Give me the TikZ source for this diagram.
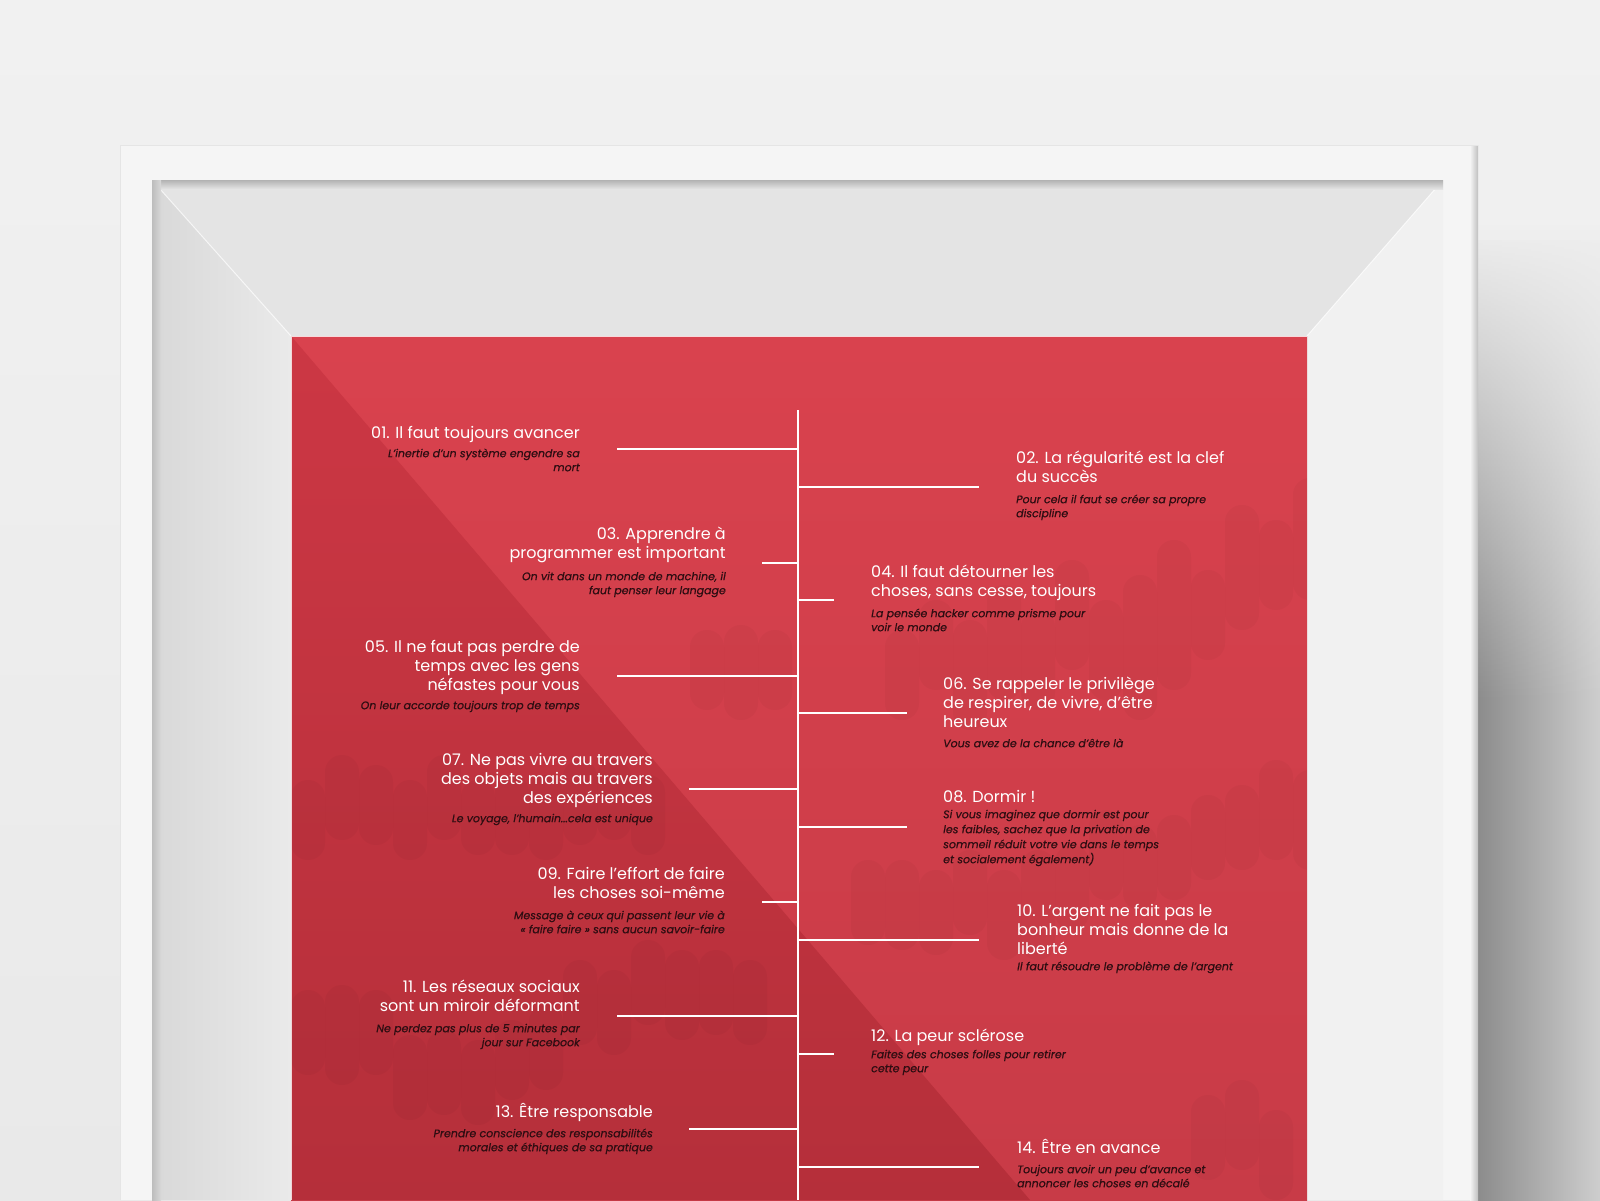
\documentclass[tikz,border=0pt]{standalone}
\usepackage{fontspec}
\setmainfont{Poppins}
\newfontfamily\subfam{Poppins}[FakeBold=0.6]
\usetikzlibrary{fadings}
\tikzfading[name=topopaque, top color=transparent!0, bottom color=transparent!100]
\definecolor{wallA}{HTML}{F1F1F1}
\definecolor{wallB}{HTML}{E9E9E9}
\definecolor{shdA}{HTML}{8C8C8C}
\definecolor{shdB}{HTML}{CECECE}
\definecolor{framec}{HTML}{F5F5F5}
\definecolor{bevtop}{HTML}{E4E4E4}
\definecolor{bevleftA}{HTML}{D8D8D8}
\definecolor{bevleftB}{HTML}{EAEAEA}
\definecolor{bevright}{HTML}{F1F1F1}
\definecolor{redA}{HTML}{D9424E}
\definecolor{redB}{HTML}{C83B47}
\definecolor{darkA}{HTML}{CC3744}
\definecolor{darkB}{HTML}{B52F3A}
\definecolor{subc}{HTML}{2E0D12}
\newcommand\tstr{\rule{0pt}{18pt}}
\newcommand\sstr{\rule{0pt}{12pt}}
\newcommand\drip[3]{\fill[black, opacity=0.028, rounded corners=16.9pt] (#1,#2) rectangle (#1+34,#3);}
\newcommand\ttlfont{\fontsize{16}{19}\selectfont}
\newcommand\subfont{\subfam\fontsize{11}{14}\selectfont\itshape}
\tikzset{
  ttl/.style={inner sep=0pt, text=white, font=\ttlfont},
  sub/.style={inner sep=0pt, text=subc, font=\subfont},
  L/.style={anchor=north east, align=right},
  R/.style={anchor=north west, align=left},
  branch/.style={draw=white, line width=2pt},
}
\begin{document}
\lineskiplimit=-40pt\relax
\begin{tikzpicture}[x=1pt,y=-1pt]
\useasboundingbox (0,0) rectangle (1600,1200);
% wall
\shade[top color=wallA, bottom color=wallB] (0,0) rectangle (1600,1200);
% shadow to the right of the frame
\shade[left color=shdA, right color=shdB] (1478,240) rectangle (1600,1200);
\fill[wallA!60!wallB, path fading=topopaque] (1478,230) rectangle (1600,700);
% frame
\fill[framec] (120,145) rectangle (1478,1200);
\shade[left color=framec, right color=black!25] (1470,145) rectangle (1478,1200);
\draw[black!10, line width=0.8pt] (120,1200) -- (120,145) -- (1478,145);
% mat bevels
\fill[bevtop] (152,180) -- (1443,180) -- (1307,336) -- (291,336) -- cycle;
\shade[left color=bevleftA, right color=bevleftB] (152,180) -- (291,336) -- (291,1200) -- (152,1200) -- cycle;
\fill[bevright] (1443,180) -- (1443,1200) -- (1307,1200) -- (1307,336) -- cycle;
\draw[white, opacity=0.7, line width=1pt] (152,180) -- (291,336);
\draw[white, opacity=0.7, line width=1pt] (1443,180) -- (1307,336);
% inner shadows of the opening
\shade[top color=black!30, bottom color=bevtop] (152,180) rectangle (1443,189);
\shade[left color=black!26, right color=bevleftA] (152,180) rectangle (161,1200);
% poster
\shade[top color=redA, bottom color=redB] (291,336) rectangle (1307,1200);
\shade[top color=darkA, bottom color=darkB] (291,336) -- (1030,1200) -- (291,1200) -- cycle;
\begin{scope}
\clip (291,336) rectangle (1307,1200);
% band right upper
\foreach \x/\a/\b in {885/630/720, 919/600/690, 953/620/730, 987/585/700, 1021/610/710, 1055/560/670,
  1089/600/700, 1123/575/720, 1157/540/690, 1191/570/660, 1225/505/630, 1259/520/610, 1293/478/600}{\drip{\x}{\a}{\b}}
% band left middle
\foreach \x/\a/\b in {291/780/860, 325/755/840, 359/765/845, 393/780/860, 427/755/840, 461/780/855,
  495/775/855, 529/775/860, 563/760/845, 597/760/840, 631/775/855, 690/630/710, 724/625/720, 758/630/710}{\drip{\x}{\a}{\b}}
% band right lower
\foreach \x/\a/\b in {851/860/945, 885/860/950, 919/870/955, 953/850/935, 987/870/960, 1021/850/960, 1055/845/930,
  1089/810/900, 1123/825/910, 1157/815/900, 1191/795/880, 1225/785/870, 1259/760/860, 1293/770/870}{\drip{\x}{\a}{\b}}
% band left lower
\foreach \x/\a/\b in {291/990/1075, 325/985/1085, 359/990/1075, 393/1035/1120, 427/1030/1115, 461/1040/1125,
  495/1020/1100, 529/1005/1090, 563/960/1045, 597/970/1055, 631/940/1025, 665/950/1040, 699/950/1035, 733/960/1045}{\drip{\x}{\a}{\b}}
% bottom right
\foreach \x/\a/\b in {1191/1095/1180, 1225/1080/1170, 1259/1110/1200}{\drip{\x}{\a}{\b}}
\end{scope}
\draw[white, opacity=0.8, line width=1pt] (291,1200) -- (291,336) -- (1307,336);
% spine
\coordinate (spTop) at (798,410);
\coordinate (spBot) at (798,1200);
\draw[branch] (spTop) -- (spBot);
% branches
\foreach \n/\y/\x in {01/449/617, 03/563/762, 05/676/617, 07/789/689, 09/902/762, 11/1016/617, 13/1129/689,
                      02/487/979, 04/600/834, 06/713/907, 08/827/907, 10/940/979, 12/1054/834, 14/1167/979}{
  \coordinate (sp\n) at (798,\y);
  \coordinate (br\n) at (\x,\y);
  \draw[branch] (sp\n) -- (br\n);
}
% left items
\node[ttl,L] (t01) at (580,420) {\tstr 01. Il faut toujours avancer};
\node[sub,L] (s01) at (580,445) {\sstr L’inertie d’un système engendre sa\\mort};
\node[ttl,L] (t03) at (726,521) {\tstr 03. Apprendre à\\programmer est important};
\node[sub,L] (s03) at (726,568) {\sstr On vit dans un monde de machine, il\\faut penser leur langage};
\node[ttl,L] (t05) at (580,634) {\tstr 05. Il ne faut pas perdre de\\temps avec les gens\\néfastes pour vous};
\node[sub,L] (s05) at (580,697) {\sstr On leur accorde toujours trop de temps};
\node[ttl,L] (t07) at (653,747) {\tstr 07. Ne pas vivre au travers\\des objets mais au travers\\des expériences};
\node[sub,L] (s07) at (653,810) {\sstr Le voyage, l’humain...cela est unique};
\node[ttl,L] (t09) at (725,861) {\tstr 09. Faire l’effort de faire\\les choses soi-même};
\node[sub,L] (s09) at (725,907) {\sstr Message à ceux qui passent leur vie à\\« faire faire » sans aucun savoir-faire};
\node[ttl,L] (t11) at (580,974) {\tstr 11. Les réseaux sociaux\\sont un miroir déformant};
\node[sub,L] (s11) at (580,1020) {\sstr Ne perdez pas plus de 5 minutes par\\jour sur Facebook};
\node[ttl,L] (t13) at (653,1099) {\tstr 13. Être responsable};
\node[sub,L] (s13) at (653,1125) {\sstr Prendre conscience des responsabilités\\morales et éthiques de sa pratique};
% right items
\node[ttl,R] (t02) at (1016,445) {\tstr 02. La régularité est la clef\\du succès};
\node[sub,R] (s02) at (1016,491) {\sstr Pour cela il faut se créer sa propre\\discipline};
\node[ttl,R] (t04) at (871,559) {\tstr 04. Il faut détourner les\\choses, sans cesse, toujours};
\node[sub,R] (s04) at (871,605) {\sstr La pensée hacker comme prisme pour\\voir le monde};
\node[ttl,R] (t06) at (943,671) {\tstr 06. Se rappeler le privilège\\de respirer, de vivre, d’être\\heureux};
\node[sub,R] (s06) at (943,735) {\sstr Vous avez de la chance d’être là};
\node[ttl,R] (t08) at (943,784) {\tstr 08. Dormir !};
\node[sub,R, font=\subfont\fontsize{11}{15}\selectfont] (s08) at (943,806) {\sstr Si vous imaginez que dormir est pour\\les faibles, sachez que la privation de\\sommeil réduit votre vie dans le temps\\et socialement également)};
\node[ttl,R] (t10) at (1017,898) {\tstr 10. L’argent ne fait pas le\\bonheur mais donne de la\\liberté};
\node[sub,R] (s10) at (1017,958) {\sstr Il faut résoudre le problème de l’argent};
\node[ttl,R] (t12) at (871,1023) {\tstr 12. La peur sclérose};
\node[sub,R] (s12) at (871,1046) {\sstr Faites des choses folles pour retirer\\cette peur};
\node[ttl,R] (t14) at (1017,1135) {\tstr 14. Être en avance};
\node[sub,R] (s14) at (1017,1161) {\sstr Toujours avoir un peu d’avance et\\annoncer les choses en décalé};
\end{tikzpicture}
\end{document}
